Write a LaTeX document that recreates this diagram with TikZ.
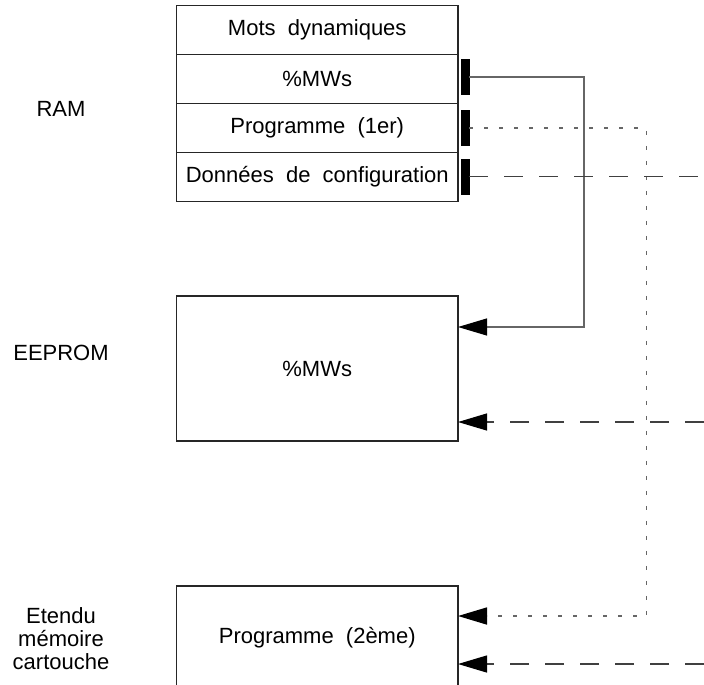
\documentclass[tikz,border=0pt]{standalone}
\usepackage{fontspec}
\setmainfont{Liberation Sans}
\usetikzlibrary{arrows.meta, positioning}

\tikzset{
    cell/.style={draw=black!85, line width=0.6pt, minimum width=140.75pt, minimum height=24.5pt, inner sep=0pt, outer sep=0pt},
    bigcell/.style={cell, minimum height=72.5pt},
    bar/.style={draw=black, fill=black, minimum width=4pt, minimum height=17.5pt, inner sep=0pt},
    memlabel/.style={align=center, inner sep=0pt},
    flow/.style={draw=black!60, line width=0.6pt},
    tip/.style={-{Triangle[length=14.5pt, width=8.5pt, color=black]}},
    solidflow/.style={flow},
    dotflow/.style={flow, line width=0.8pt, dash pattern=on 2pt off 5.5pt},
    dashflow/.style={flow, draw=black!75, dash pattern=on 9.5pt off 8pt}
}

\begin{document}
\begin{tikzpicture}[x=0.5pt, y=-0.5pt, font=\fontsize{11}{13}\selectfont]
    \useasboundingbox (0,0) rectangle (704,684);
    \clip (0,0) rectangle (704,684);

    % RAM block
    \node[cell] (mots) at (317.25, 30) {Mots~~dynamiques};
    \node[cell, below=0pt of mots] (mws) {\%MWs};
    \node[cell, below=0pt of mws] (prog) {Programme~~(1er)};
    \node[cell, below=0pt of prog] (config) {Données~~de~~configuration};

    \node[bar] (bar1) at (465, 77) {};
    \node[bar] (bar2) at (465, 128) {};
    \node[bar] (bar3) at (465, 176.5) {};

    % EEPROM and cartridge
    \node[bigcell] (eeprom) at (317.25, 368.5) {\%MWs};
    \node[cell, minimum height=52pt] (ext) at (317.25, 638) {Programme~~(2ème)};

    % Labels
    \node[memlabel] (lram) at (61, 109) {RAM};
    \node[memlabel] (leeprom) at (61, 353) {EEPROM};
    \node[memlabel, font=\fontsize{11}{11.5}\selectfont] (lext) at (61, 639) {Etendu\\mémoire\\cartouche};

    % Transfers
    \coordinate (turn1) at (584, 327);
    \coordinate (turn2) at (646.5, 616);
    \coordinate (edge1) at (704, 176.5);
    \coordinate (edge2) at (704, 422);
    \coordinate (edge3) at (704, 664);

    \draw[solidflow, tip] (bar1.east) -| (turn1) -- ([yshift=20.75pt]eeprom.east);
    \draw[dotflow, tip] (bar2.east) -| (turn2) -- ([yshift=11pt]ext.east);
    \draw[dashflow] (bar3.east) -- (edge1);
    \draw[dashflow, tip] (edge2) -- ([yshift=-26.75pt]eeprom.east);
    \draw[dashflow, tip] (edge3) -- ([yshift=-13pt]ext.east);

\end{tikzpicture}
\end{document}
